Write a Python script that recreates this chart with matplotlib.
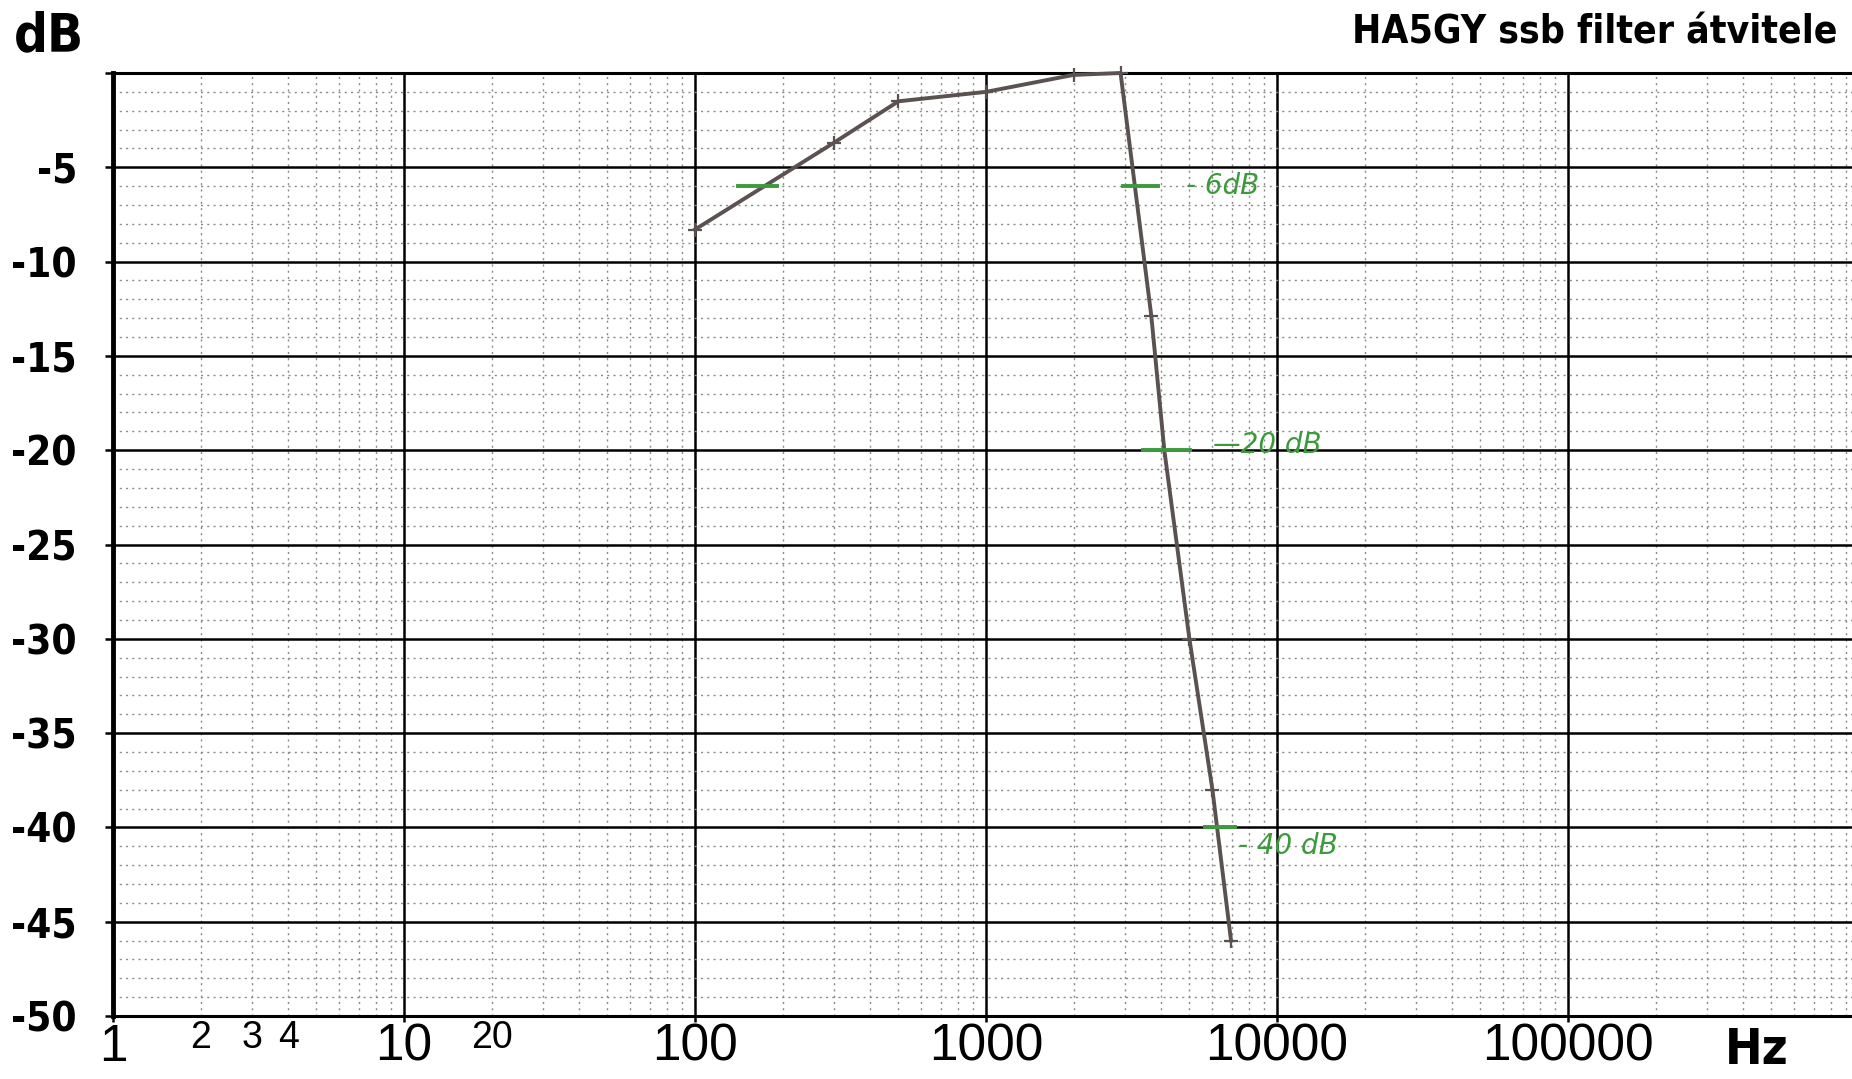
import matplotlib
matplotlib.use("Agg")
import matplotlib.pyplot as plt
import numpy as np

freq = [100, 300, 500, 1000, 2000, 2900, 3700, 4100, 5000, 6000, 6950]
db = [-8.3, -3.7, -1.5, -1.0, -0.1, 0.0, -12.9, -20.0, -30.0, -38.0, -46.0]

# green hand marks: level, start Hz, end Hz
mark_db = [-6, -6, -20, -40]
mark_f0 = [141, 2955, 3465, 5660]
mark_f1 = [191, 3900, 5020, 7170]
# green hand notes
note_text = ["- 6dB", "\u201420 dB", "- 40 dB"]
note_f = [4870, 6030, 7340]
note_db = [-6.0, -19.7, -41.0]

ytick_vals = [0, -5, -10, -15, -20, -25, -30, -35, -40, -45, -50]
ytick_lbl = ["", "-5", "-10", "-15", "-20", "-25", "-30", "-35", "-40", "-45", "-50"]
xtick_vals = [1, 10, 100, 1000, 10000, 100000]
xtick_lbl = ["1", "10", "100", "1000", "10000", "100000"]
minor_lbl = {2: "2", 3: "3", 4: "4", 20: "20"}

bold_kw = dict(family="DejaVu Sans", fontstretch="condensed", fontweight="bold")
num_font = ["Liberation Sans", "DejaVu Sans"]

W, H = 1852, 1079
fig = plt.figure(figsize=(W / 100, H / 100), dpi=100)
left, top, bottom = 113, 73, 1016
ax = fig.add_axes([left / W, 1 - bottom / H, 1 - left / W, (bottom - top) / H])
ax.set_xscale("log")
ax.set_xlim(1, 10 ** ((W - left) / 291.0))
ax.set_ylim(-50, 0)

# grid
minor_x = [m * 10 ** d for d in range(0, 6) for m in range(2, 10)]
ax.set_xticks(xtick_vals)
ax.set_xticklabels(xtick_lbl, fontsize=37, family=num_font)
ax.set_xticks(minor_x, minor=True)
ax.set_xticklabels([minor_lbl.get(int(round(v)), "") for v in minor_x], minor=True,
                   fontsize=27, family=num_font)
ax.set_yticks(ytick_vals)
ax.set_yticklabels(ytick_lbl, fontsize=29, **bold_kw)
ax.set_yticks(np.arange(-49, 0, 1), minor=True)

ax.grid(which="major", color="black", lw=1.8)
ax.grid(which="minor", color="#8a8a8a", lw=1.0, ls=(0, (1.5, 3)))
ax.tick_params(axis="x", which="major", length=4, width=1.8, pad=1)
ax.tick_params(axis="x", which="minor", length=0, pad=3)
ax.tick_params(axis="y", which="major", length=6, width=1.8, pad=20)
ax.tick_params(axis="y", which="minor", length=0)
ax.set_axisbelow(True)

ax.spines["right"].set_visible(False)
ax.spines["left"].set_linewidth(3.5)
ax.spines["top"].set_linewidth(2.2)
ax.spines["bottom"].set_linewidth(2.2)

# response curve
ax.plot(freq, db, color="#5b5151", lw=2.8, marker="+", ms=10, mew=1.6, zorder=5,
        clip_on=False)

# green marks and notes
for y, a, b in zip(mark_db, mark_f0, mark_f1):
    ax.plot([a, b], [y, y], color="#3c9a3c", lw=2.8, zorder=6)
for t, x, y in zip(note_text, note_f, note_db):
    ax.text(x, y, t, color="#3c9a3c", fontsize=20, ha="left", va="center",
            style="italic", zorder=6)

fig.text(14 / W, 1 - 36 / H, "dB", fontsize=38, ha="left", va="center", **bold_kw)
fig.text(1837 / W, 1 - 32 / H, "HA5GY ssb filter átvitele", fontsize=28,
         ha="right", va="center", **bold_kw)
fig.text(1757 / W, 1 - 1050 / H, "Hz", fontsize=36, ha="center", va="center", **bold_kw)

fig.savefig("out.png", dpi=100, facecolor="white")
